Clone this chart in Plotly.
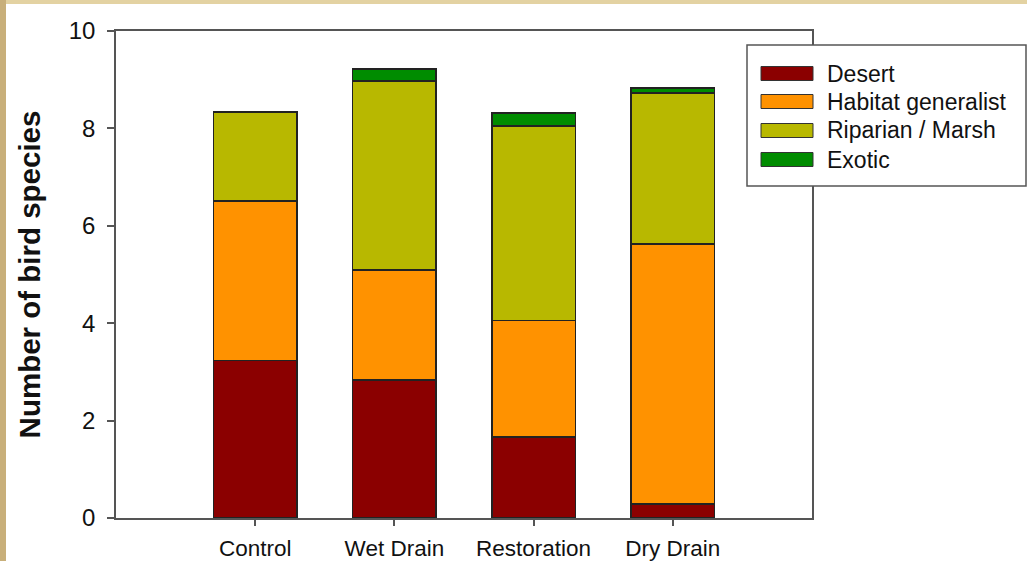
import plotly.graph_objects as go

categories = ["Control", "Wet Drain", "Restoration", "Dry Drain"]
series_names = ["Desert", "Habitat generalist", "Riparian / Marsh", "Exotic"]
desert = [3.24, 2.83, 1.66, 0.29]
generalist = [3.27, 2.26, 2.39, 5.34]
riparian = [1.83, 3.88, 4.00, 3.10]
exotic = [0.0, 0.25, 0.27, 0.10]
y_ticks = [0, 2, 4, 6, 8, 10]
colors = ["#8B0000", "#FF9200", "#B8B800", "#008C00"]

W, H = 1027, 561
L, R, T, B = 116, 812, 31, 518
pw, ph = R - L, B - T

def px_x(x):
    return (x - L) / pw

def px_y(y):
    return (B - y) / ph

FONT = "Liberation Sans, Arial, sans-serif"

fig = go.Figure()
for name, vals, col in zip(series_names, [desert, generalist, riparian, exotic], colors):
    fig.add_trace(go.Bar(
        x=categories, y=vals, name=name, width=0.6,
        marker=dict(color=col, line=dict(color="#222222", width=1.4)),
        showlegend=False,
    ))

shapes = []
# decorative tan border
shapes.append(dict(type="rect", xref="paper", yref="paper",
                   x0=px_x(0), x1=px_x(W), y0=px_y(0), y1=px_y(4),
                   fillcolor="#E3D2A2", line=dict(width=0), layer="below"))
shapes.append(dict(type="rect", xref="paper", yref="paper",
                   x0=px_x(0), x1=px_x(6), y0=px_y(0), y1=px_y(H),
                   fillcolor="#C8AF7A", line=dict(width=0), layer="below"))
# legend box
shapes.append(dict(type="rect", xref="paper", yref="paper",
                   x0=px_x(747), x1=px_x(1026), y0=px_y(45), y1=px_y(186),
                   fillcolor="white", line=dict(color="#555555", width=1.5), layer="above"))
annotations = []
row_y = [73.5, 101.5, 130.5, 159.5]
for name, col, ry in zip(series_names, colors, row_y):
    shapes.append(dict(type="rect", xref="paper", yref="paper",
                       x0=px_x(761), x1=px_x(813), y0=px_y(ry - 7), y1=px_y(ry + 7),
                       fillcolor=col, line=dict(color="#333333", width=1), layer="above"))
    annotations.append(dict(xref="paper", yref="paper", x=px_x(825), y=px_y(ry),
                            text=name, showarrow=False, xanchor="left", yanchor="middle",
                            font=dict(family=FONT, size=23, color="#111111")))

fig.update_layout(
    width=W, height=H, autosize=False,
    margin=dict(l=L, r=W - R, t=T, b=H - B, pad=0, autoexpand=False),
    barmode="stack",
    paper_bgcolor="white", plot_bgcolor="white",
    font=dict(family=FONT, color="#111111"),
    shapes=shapes, annotations=annotations,
    xaxis=dict(range=[-1, 4], showline=True, mirror=True, linecolor="#555555", linewidth=1.5,
               ticks="outside", ticklen=6, tickcolor="#555555", tickwidth=1.5, automargin=False,
               ticklabelstandoff=3,
               tickfont=dict(size=22.5, family=FONT, color="#111111"), showgrid=False),
    yaxis=dict(range=[0, 10], tickvals=y_ticks, showline=True, mirror=True, linecolor="#555555",
               linewidth=1.5, ticks="outside", ticklen=7, tickcolor="#555555", tickwidth=1.5,
               automargin=False, ticklabelstandoff=7,
               tickfont=dict(size=24, family=FONT, color="#111111"), showgrid=False, zeroline=False,
               title=dict(text="<b>Number of bird species</b>", standoff=19,
                          font=dict(size=29.5, family=FONT, color="#111111"))),
)

fig.write_html("out.html", config={"displayModeBar": False},
               post_script="document.body.style.margin='0';document.body.style.overflow='hidden';")
